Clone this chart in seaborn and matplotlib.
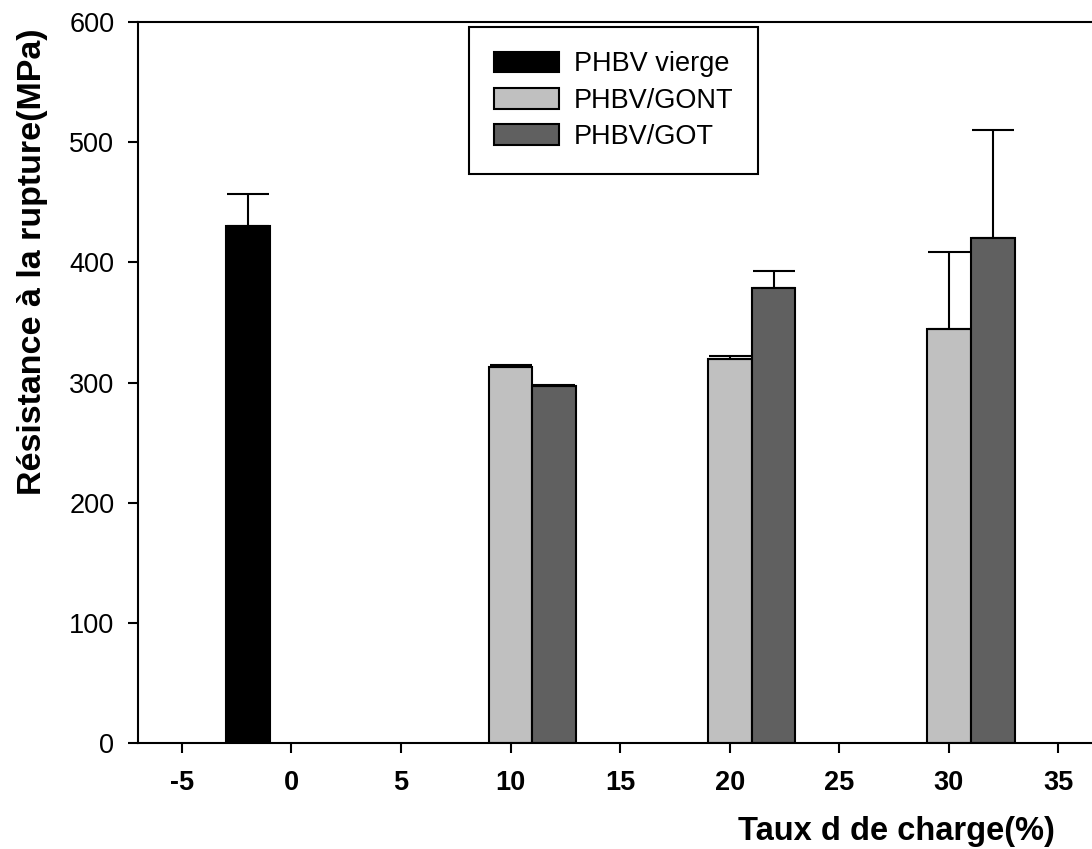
import numpy as np
import pandas as pd
import matplotlib
matplotlib.use("Agg")
import matplotlib.pyplot as plt
import seaborn as sns
from matplotlib.patches import Patch

# -------------------------
# Data
# -------------------------
series_names = ["PHBV vierge", "PHBV/GONT", "PHBV/GOT"]
series_colors = ["#000000", "#c0c0c0", "#606060"]

vierge_pos = [-2]
vierge_val = [430]
vierge_err = [27]

gont_pos = [10, 20, 30]
gont_val = [313, 320, 345]
gont_err = [1.5, 2.5, 64]

got_pos = [12, 22, 32]
got_val = [297, 379, 420]
got_err = [1, 14, 90]

x_ticks = [-5, 0, 5, 10, 15, 20, 25, 30, 35]
y_ticks = [0, 100, 200, 300, 400, 500, 600]

df = pd.DataFrame({
    "pos": vierge_pos + gont_pos + got_pos,
    "value": vierge_val + gont_val + got_val,
    "err": vierge_err + gont_err + got_err,
    "serie": [series_names[0]] * len(vierge_pos)
    + [series_names[1]] * len(gont_pos)
    + [series_names[2]] * len(got_pos),
})

# -------------------------
# Style
# -------------------------
sns.set_style("ticks")
plt.rcParams["font.family"] = ["Liberation Sans", "DejaVu Sans"]
plt.rcParams["axes.linewidth"] = 1.5
plt.rcParams["text.color"] = "black"
plt.rcParams["axes.labelcolor"] = "black"
plt.rcParams["xtick.color"] = "black"
plt.rcParams["ytick.color"] = "black"

fig = plt.figure(figsize=(10.92, 8.49), dpi=100)
ax = fig.add_axes([0.1264, 0.1243, 0.903, 0.8498])

palette = dict(zip(series_names, series_colors))
sns.barplot(
    data=df, x="pos", y="value", hue="serie", hue_order=series_names,
    palette=palette, native_scale=True, dodge=False, width=1.0,
    errorbar=None, edgecolor="black", linewidth=1.5, saturation=1,
    legend=False, ax=ax,
)

# upper-only error bars
ax.errorbar(
    df["pos"], df["value"], yerr=[np.zeros(len(df)), df["err"]],
    fmt="none", ecolor="black", elinewidth=1.5, capsize=15, capthick=1.5,
    zorder=3,
)

ax.set_xlim(-7, 38)
ax.set_ylim(0, 600)
ax.set_xticks(x_ticks)
ax.set_yticks(y_ticks)
ax.set_xticklabels([str(t) for t in x_ticks], fontweight="bold")
ax.tick_params(axis="x", labelsize=19.5, length=7, width=1.5, pad=12,
               direction="out", colors="black")
ax.tick_params(axis="y", labelsize=19.5, length=7, width=1.5, pad=10,
               direction="out", colors="black")

for s in ax.spines.values():
    s.set_color("black")
    s.set_linewidth(1.5)

ax.set_xlabel("Taux d de charge(%)", fontsize=23.5, fontweight="bold",
              ha="center", va="top", color="black")
ax.xaxis.set_label_coords(0.769, -0.1)
ax.set_ylabel("Résistance à la rupture(MPa)", fontsize=24.5, fontweight="bold",
              color="black")
ax.yaxis.set_label_coords(-0.091, 0.668)

handles = [Patch(facecolor=c, edgecolor="black", linewidth=1.5, label=n)
           for n, c in zip(series_names, series_colors)]
leg = ax.legend(
    handles=handles, loc="upper left", bbox_to_anchor=(0.336, 0.993),
    borderaxespad=0, fontsize=19.5, frameon=True, fancybox=False,
    edgecolor="black", framealpha=1, handlelength=2.4, handleheight=0.8,
    handletextpad=0.55, labelspacing=0.38, borderpad=0.9,
)
leg.get_frame().set_linewidth(1.5)
for t in leg.get_texts():
    t.set_color("black")

fig.savefig("out.png", dpi=100)
